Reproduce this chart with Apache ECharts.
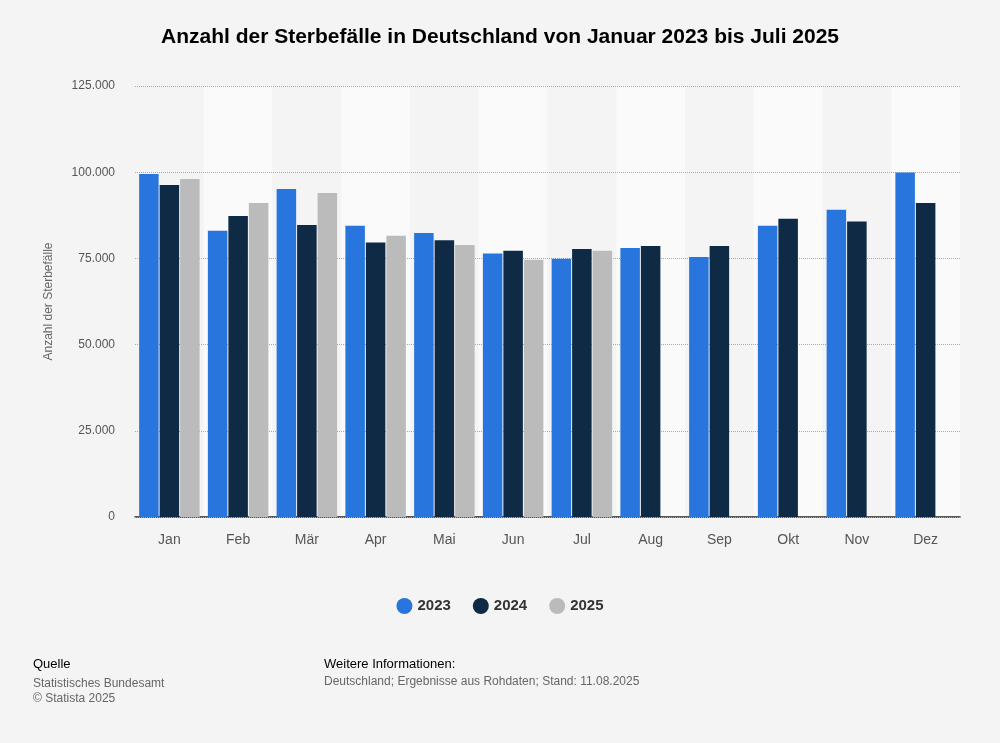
<!DOCTYPE html>
<html>
<head>
<meta charset="utf-8">
<script src="https://cdn.jsdelivr.net/npm/echarts@6/dist/echarts.min.js"></script>
<style>
  html, body { margin: 0; padding: 0; background: #f4f4f4; }
  #chart { width: 1000px; height: 743px; }
</style>
</head>
<body>
<div id="chart"></div>
<script>
const months = ['Jan', 'Feb', 'Mär', 'Apr', 'Mai', 'Jun', 'Jul', 'Aug', 'Sep', 'Okt', 'Nov', 'Dez'];
const deaths2023 = [99500, 83000, 95100, 84500, 82400, 76400, 74900, 78000, 75400, 84500, 89100, 99900];
const deaths2024 = [96300, 87300, 84700, 79600, 80300, 77200, 77700, 78600, 78600, 86500, 85700, 91100];
const deaths2025 = [98000, 91100, 94000, 81600, 78900, 74600, 77200, null, null, null, null, null];
const yTicks = [0, 25000, 50000, 75000, 100000, 125000];

const fmt = v => String(v).replace(/\B(?=(\d{3})+(?!\d))/g, '.');

const chart = echarts.init(document.getElementById('chart'), null, { renderer: 'canvas' });

const barSeries = (name, data, color) => ({
    name: name,
    type: 'bar',
    data: data,
    z: 5,
    barGap: '5%',
    barCategoryGap: '12%',
    itemStyle: { color: color },
    emphasis: { disabled: true }
});

chart.setOption({
    backgroundColor: '#f4f4f4',
    animation: false,
    title: {
        text: 'Anzahl der Sterbefälle in Deutschland von Januar 2023 bis Juli 2025',
        left: 'center',
        top: 22,
        textStyle: { fontFamily: 'Liberation Sans', fontSize: 21, fontWeight: 'bold', color: '#000' }
    },
    grid: { left: 135, right: 40, top: 86, bottom: 226 },
    legend: {
        bottom: 124,
        left: 'center',
        icon: 'circle',
        itemWidth: 16,
        itemHeight: 16,
        itemGap: 22,
        textStyle: { fontFamily: 'Liberation Sans', fontSize: 15, fontWeight: 'bold', color: '#333' }
    },
    xAxis: {
        type: 'category',
        data: months,
        z: 1,
        axisLine: { lineStyle: { color: '#222', width: 1.5 } },
        axisTick: { show: false },
        axisLabel: { fontFamily: 'Liberation Sans', fontSize: 14, color: '#555', margin: 16 },
        splitArea: { show: true, areaStyle: { color: ['#f4f4f4', '#fafafa'] } }
    },
    yAxis: {
        type: 'value',
        min: 0,
        max: 125000,
        interval: 25000,
        z: 2,
        name: 'Anzahl der Sterbefälle',
        nameLocation: 'middle',
        nameGap: 80,
        nameTextStyle: { fontFamily: 'Liberation Sans', fontSize: 12, color: '#666' },
        axisLine: { show: false },
        axisTick: { show: false },
        axisLabel: {
            fontFamily: 'Liberation Sans', fontSize: 12, color: '#555', margin: 20,
            formatter: v => yTicks.includes(v) ? fmt(v) : ''
        },
        splitLine: { lineStyle: { color: '#aaa', type: 'dotted' } }
    },
    series: [
        barSeries('2023', deaths2023, '#2876dd'),
        barSeries('2024', deaths2024, '#0f2a44'),
        barSeries('2025', deaths2025, '#bbbbbb')
    ],
    graphic: [
        { type: 'text', left: 33, top: 658, style: { text: 'Quelle', font: '13px Liberation Sans', fill: '#000' } },
        { type: 'text', left: 33, top: 676, style: { text: 'Statistisches Bundesamt\n© Statista 2025', font: '12px Liberation Sans', fill: '#666', lineHeight: 15 } },
        { type: 'text', left: 324, top: 658, style: { text: 'Weitere Informationen:', font: '13px Liberation Sans', fill: '#000' } },
        { type: 'text', left: 324, top: 676, style: { text: 'Deutschland; Ergebnisse aus Rohdaten; Stand: 11.08.2025', font: '12px Liberation Sans', fill: '#666' } }
    ]
});
</script>
</body>
</html>
